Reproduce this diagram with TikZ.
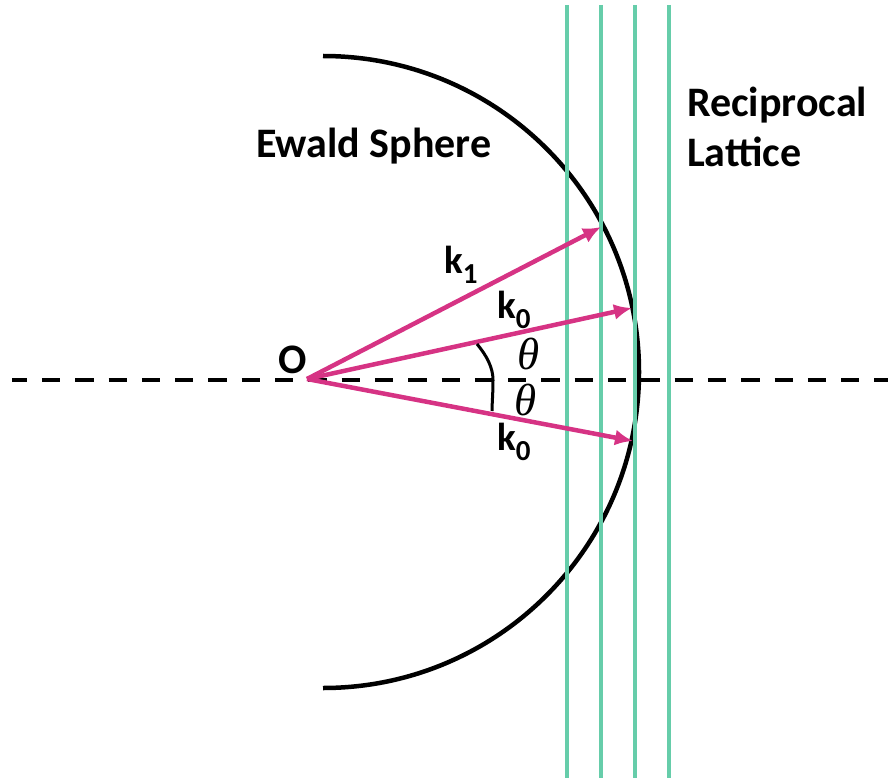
\documentclass[tikz,border=0pt]{standalone}
\usepackage{fontspec}
\setmainfont{Carlito}
\newfontfamily\thetafont{Liberation Serif}
\usetikzlibrary{arrows.meta}
\definecolor{vecpink}{RGB}{214,51,132}
\definecolor{latgreen}{RGB}{102,205,170}
\tikzset{
  lbl/.style={inner sep=0pt, font=\fontsize{42}{50}\selectfont\bfseries},
  klbl/.style={inner sep=0pt, anchor=base west, font=\fontsize{39}{39}\selectfont\bfseries},
  thlbl/.style={inner sep=0pt, font=\fontsize{45}{45}\selectfont\thetafont\itshape},
  latline/.style={draw=latgreen, line width=4pt},
  vec/.style={draw=vecpink, line width=4.5pt, -{Latex[length=18pt,width=16pt]}},
  axisline/.style={draw=black, line width=4.5pt, dash pattern=on 18.3pt off 15pt, dash phase=3.4pt},
  sphere/.style={draw=black, line width=4.5pt},
  anglearc/.style={draw=black, line width=3pt}
}
\newcommand{\ksub}[1]{\raisebox{-10pt}{\fontsize{29}{29}\selectfont\bfseries #1}}
\begin{document}
\begin{tikzpicture}[x=1pt,y=-1pt]
\useasboundingbox (0,0) rectangle (888,778);
% axis
\coordinate (axL) at (12,380);
\coordinate (axR) at (888,380);
\draw[axisline] (axL) -- (axR);
% Ewald sphere (arc)
\coordinate (sc) at (323,372.5);
\draw[sphere] (323,56) arc[start angle=-90, end angle=90, radius=316];
% reciprocal lattice lines
\foreach \xx/\nm in {567/a,601/b,635/c,669/d}{
  \coordinate (top\nm) at (\xx,5);
  \coordinate (bot\nm) at (\xx,778);
  \draw[latline] (top\nm) -- (bot\nm);
}
% vectors
\coordinate (O) at (307,379);
\coordinate (t1) at (601,227);
\coordinate (t0a) at (632,308);
\coordinate (t0b) at (633,441);
\draw[vec] (O) -- (t1);
\draw[vec] (O) -- (t0a);
\draw[vec] (O) -- (t0b);
% angle arc
\coordinate (ang1) at (477,344);
\coordinate (ang2) at (493,380);
\coordinate (ang3) at (492,411);
\draw[anglearc] (ang1) .. controls (487,356) and (493,368) .. (ang2) .. controls (493,394) and (492,404) .. (ang3);
% labels
\node[lbl, anchor=base west] (ewald) at (256,158) {Ewald Sphere};
\node[lbl, anchor=base west, align=left] (recip) at (687,167) {Reciprocal\\Lattice};
\node[lbl, anchor=base west] (olbl) at (278,373) {O};
\node[klbl] (k1) at (444,273) {k\ksub{1}};
\node[klbl] (k0a) at (497,318) {k\ksub{0}};
\node[klbl] (k0b) at (497,450) {k\ksub{0}};
\node[thlbl] (th1) at (529,354) {θ};
\node[thlbl] (th2) at (526,400) {θ};
\end{tikzpicture}
\end{document}
